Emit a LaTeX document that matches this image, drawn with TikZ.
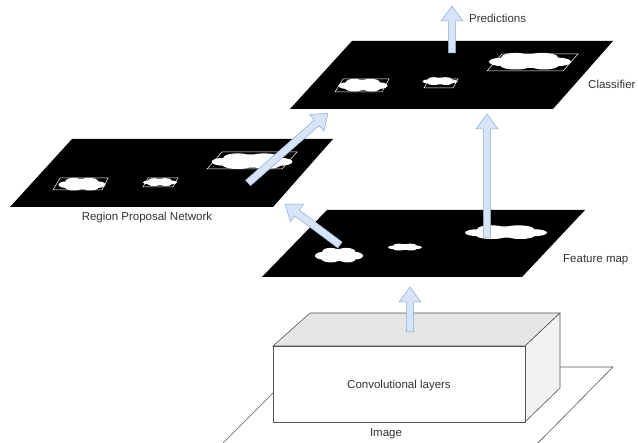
\documentclass[tikz,border=0pt]{standalone}
\usepackage{fontspec}
\setmainfont{Liberation Sans}
\usepackage{tikz}
\usetikzlibrary{calc}

\definecolor{arrowfill}{RGB}{214,228,246}
\definecolor{arrowline}{RGB}{140,170,210}
\definecolor{labelgray}{RGB}{51,51,51}
\definecolor{edgegray}{RGB}{85,85,85}
\definecolor{topgray}{RGB}{230,230,230}
\definecolor{sidegray}{RGB}{242,242,242}

\newcommand{\fatarrow}[2]{%
	\draw[fat] let \p1=($(#2)-(#1)$), \n1={atan2(\y1,\x1)}, \n2={veclen(\x1,\y1)} in
		[shift={(#1)}, rotate=\n1] (0,3.7) -- ({\n2-15},3.7) -- ({\n2-15},11) -- (\n2,0)
		-- ({\n2-15},-11) -- ({\n2-15},-3.7) -- (0,-3.7) -- cycle;}
\newcommand{\puff}[4]{%
	\fill[white, shift={(#1,#2)}, xscale=#3/2, yscale=#4/2]
		(0,0) ellipse [x radius=0.8, y radius=0.82]
		(-0.68,0.1) ellipse [x radius=0.32, y radius=0.5]
		(0.68,0.1) ellipse [x radius=0.32, y radius=0.5]
		(-0.35,-0.45) ellipse [x radius=0.35, y radius=0.5]
		(0.3,-0.45) ellipse [x radius=0.38, y radius=0.5]
		(-0.35,0.5) ellipse [x radius=0.38, y radius=0.5]
		(0.35,0.5) ellipse [x radius=0.35, y radius=0.5];}

\begin{document}
\begin{tikzpicture}[x=1pt,y=-1pt,
		plane/.style={fill=black},
		roi/.style={draw=white, line width=0.5pt},
		fat/.style={fill=arrowfill, draw=arrowline, line width=0.5pt},
		lbl/.style={text=labelgray, font=\fontsize{11.5}{13}\selectfont, inner sep=0pt},
		face/.style={draw=edgegray, line width=0.6pt}]
			\useasboundingbox (0,0) rectangle (638,443);
			\draw[face, fill=white] (299,367) -- (613,367) -- (530,451) -- (215,451) -- cycle;
			\draw[face, fill=topgray] (273,346) -- (310,313) -- (560,313) -- (525,346) -- cycle;
			\draw[face, fill=sidegray] (525,346) -- (560,313) -- (560,388) -- (525,422) -- cycle;
			\draw[face, fill=white] (273,346) rectangle (525,422);
			\node[lbl] (conv) at (399,386) {Convolutional layers};
			\node[lbl] (image) at (386,434) {Image};

			\fill[plane] (262,277) -- (522,277) -- (585,210) -- (327,210) -- cycle;
			\puff{339}{255}{48}{15}
			\puff{405}{247}{34}{7}
			\puff{506}{232}{82}{14}
			\node[lbl, anchor=west] (fmlabel) at (563,260) {Feature map};

			\fill[plane] (10,207) -- (273,207) -- (333,139) -- (72,139) -- cycle;
			\draw[roi] (53,190) -- (102,190) -- (108,178) -- (60,178) -- cycle;
			\draw[roi] (143,187) -- (173,187) -- (178,178) -- (148,178) -- cycle;
			\draw[roi] (207,169) -- (282,169) -- (297,152) -- (222,152) -- cycle;
			\puff{82}{184}{47}{13}
			\puff{160}{182}{34}{8}
			\puff{252}{161}{81}{16}
			\node[lbl] (rpnlabel) at (147,218) {Region Proposal Network};

			\fill[plane] (290,109) -- (553,109) -- (613,41) -- (352,41) -- cycle;
			\draw[roi] (335,92) -- (382,92) -- (389,79) -- (343,79) -- cycle;
			\draw[roi] (424,88) -- (453,88) -- (458,79) -- (429,79) -- cycle;
			\draw[roi] (487,71) -- (563,71) -- (578,54) -- (502,54) -- cycle;
			\puff{363}{85}{49}{13}
			\puff{440}{81}{35}{8}
			\puff{530}{61}{82}{17}
			\node[lbl, anchor=west] (clslabel) at (588,84) {Classifier};
			\node[lbl, anchor=west] (predlabel) at (469,18) {Predictions};

			\coordinate (conv-top) at (410,332);
			\coordinate (fm-in) at (410,287);
			\coordinate (fm-right) at (487,238);
			\coordinate (cls-in) at (487,114);
			\coordinate (fm-left) at (340,245);
			\coordinate (rpn-in) at (285,204);
			\coordinate (rpn-out) at (248,183);
			\coordinate (cls-left) at (328,113);
			\coordinate (cls-top) at (452,53);
			\coordinate (pred) at (452,6);
			\fatarrow{conv-top}{fm-in}
			\fatarrow{fm-right}{cls-in}
			\fatarrow{fm-left}{rpn-in}
			\fatarrow{rpn-out}{cls-left}
			\fatarrow{cls-top}{pred}
  		\end{tikzpicture}
\end{document}
